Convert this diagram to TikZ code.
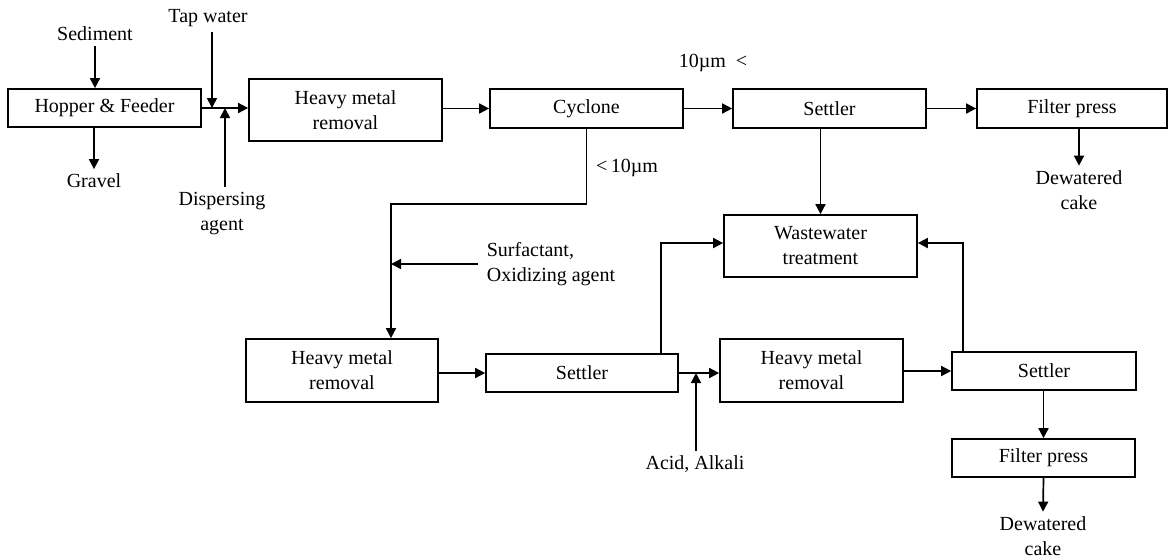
\documentclass[tikz,border=0pt]{standalone}
\usepackage{fontspec}
\setmainfont{Liberation Serif}
\usepackage{tikz}
\usetikzlibrary{arrows.meta,calc}

\begin{document}
\begin{tikzpicture}[x=0.5pt,y=-0.5pt,>={Triangle[length=5pt,width=5pt]},
  line width=0.85pt,
  every node/.style={font=\fontsize{10}{12.5}\selectfont,inner sep=2pt},
  caja/.style={draw,line width=0.85pt,align=center,inner sep=0pt,minimum width=96.5pt,minimum height=19.5pt},
  dobles/.style={caja,minimum height=31pt},
  rotulo/.style={align=center}]
  \useasboundingbox (0,0) rectangle (1168,559);

  % Linea superior
  \node[caja,minimum height=19pt] (hop) at (104.5,108) {Hopper \& Feeder};
  \node[dobles] (hm1) at (345.5,110) {Heavy metal\\removal};
  \node[caja] (cyc) at (586.5,108.5) {Cyclone};
  \node[caja] (set1) at (829.5,108.5) {Settler};
  \node[caja,minimum width=95pt] (fp1) at (1072,108.5) {Filter press};
  \node[dobles] (ww) at (820.5,246) {Wastewater\\treatment};

  % Linea inferior
  \node[dobles,minimum width=96pt,minimum height=31.5pt] (hm2) at (342,370.5) {Heavy metal\\removal};
  \node[caja,minimum width=96pt,minimum height=19pt] (set2) at (582,373) {Settler};
  \node[dobles,minimum width=91.5pt,minimum height=31.5pt] (hm3) at (811.5,370.5) {Heavy metal\\removal};
  \node[caja,minimum width=92pt,minimum height=19pt] (set3) at (1044,371) {Settler};
  \node[caja,minimum width=91.5pt,minimum height=19pt] (fp2) at (1043.5,458) {Filter press};

  % Entradas y salidas
  \node (sed) at (95,34) {Sediment};
  \node (grav) at (94,181) {Gravel};
  \node (tap) at (208,18) {Tap water};
  \node[rotulo,anchor=north] (disp) at (222,187) {Dispersing\\agent};
  \node (big) at (713,63) {10µm\enspace<};
  \node (small) at (627,168) {<\,10µm};
  \node[align=left,anchor=west,inner sep=4pt] (surf) at (478,264) {Surfactant,\\Oxidizing agent};
  \node (acid) at (695,464) {Acid, Alkali};
  \node[rotulo] (dew1) at (1079,190) {Dewatered\\cake};
  \node[rotulo] (dew2) at (1043,536) {Dewatered\\cake};

  \coordinate (tapj) at (212,108);
  \coordinate (dispj) at (225,108);
  \coordinate (turn) at (391,204);
  \coordinate (acidj) at (696,373);
  \coordinate (up2) at (661,354);
  \coordinate (up3) at (963,352);

  % Flechas
  \draw[->] (sed.south) -- (sed.south |- hop.north);
  \draw[->] (hop.south -| grav.north) -- (grav.north);
  \draw[->] (tap.south -| tapj) -- (tapj);
  \draw[->] (disp.north -| dispj) -- (dispj);
  \draw[->] (hop.east) -- (hop.east -| hm1.west);
  \draw[->] (cyc.west -| hm1.east) -- (cyc.west);
  \draw[->] (cyc.east) -- (set1.west);
  \draw[->] (set1.east) -- (fp1.west);
  \draw[->] (fp1.south -| dew1.north) -- (dew1.north);
  \draw[->] (set1.south -| ww.north) -- (ww.north);
  \draw[->] (cyc.south) |- (turn) -- (turn |- hm2.north);
  \draw[->] (surf.west) -- (surf.west -| turn);
  \draw[->] (set2.west -| hm2.east) -- (set2.west);
  \draw[->] (up2) |- ([yshift=1.5pt]ww.west);
  \draw[->] (set2.east) -- (set2.east -| hm3.west);
  \draw[->] (acid.north -| acidj) -- (acidj);
  \draw[->] (set3.west -| hm3.east) -- (set3.west);
  \draw[->] (up3) |- ([yshift=1.5pt]ww.east);
  \draw[->] (set3.south -| fp2.north) -- (fp2.north);
  \draw[->] (fp2.south) -- (dew2.north);
\end{tikzpicture}
\end{document}
